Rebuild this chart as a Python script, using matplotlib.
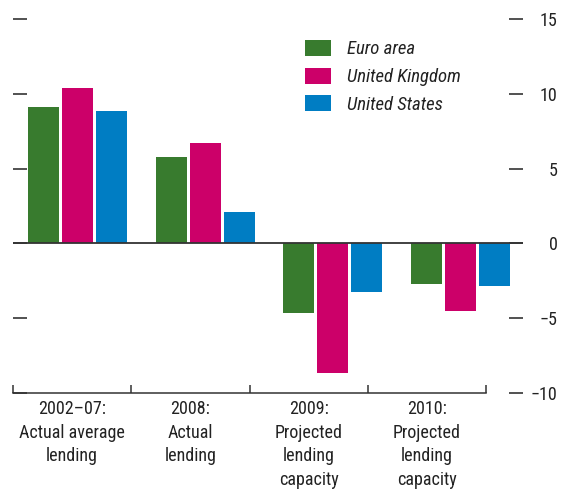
import matplotlib
matplotlib.use("Agg")
import matplotlib.pyplot as plt
from matplotlib import font_manager as fm
import numpy as np

categories = ["2002\u201307:\nActual average\nlending", "2008:\nActual\nlending",
              "2009:\nProjected\nlending\ncapacity", "2010:\nProjected\nlending\ncapacity"]
series_names = ["Euro area", "United Kingdom", "United States"]
euro_area = [9.13, 5.8, -4.67, -2.73]
united_kingdom = [10.4, 6.73, -8.67, -4.53]
united_states = [8.87, 2.13, -3.24, -2.87]
yticks = [-10, -5, 0, 5, 10, 15]
colors = ["#387B2E", "#CC0069", "#007DC3"]

avail = {f.name for f in fm.fontManager.ttflist}
fams = [f for f in ["Roboto Condensed", "Archivo Narrow", "Liberation Sans"] if f in avail] + ["DejaVu Sans"]
plt.rcParams["font.family"] = fams
FS = 13

fig = plt.figure(figsize=(5.62, 4.95), dpi=100)
L, R, T, B = 13, 523, 19, 393
W, H = 562, 495
ax = fig.add_axes([L / W, 1 - B / H, (R - L) / W, (B - T) / H])

px = 127.5  # pixels per group (bar groups)
def d(p):
    return (p - 77.5) / px

x = np.arange(len(categories))
bw = 31 / px
off = 34 / px
handles = []
for k, (vals, c, name) in enumerate(zip([euro_area, united_kingdom, united_states], colors, series_names)):
    h = ax.bar(x + (k - 1) * off, vals, width=bw, color=c, label=name, zorder=2)
    handles.append(h)

ax.set_xlim(d(L), d(R))
ax.set_ylim(-10, 15)
ax.axhline(0, color="#333333", lw=1.3, zorder=3)

for s in ["left", "right", "top"]:
    ax.spines[s].set_visible(False)
seps = [d(13), d(131.3), d(249.7), d(368), d(486)]
ax.spines["bottom"].set_bounds(seps[0], seps[-1])
ax.spines["bottom"].set_color("#333333")
ax.spines["bottom"].set_linewidth(1.1)

ax.set_xticks(seps)
ax.set_xticklabels([])
ax.tick_params(axis="x", which="major", direction="in", length=6, width=1.1, color="#333333")
mids = [(seps[i] + seps[i + 1]) / 2 for i in range(4)]
ax.set_xticks(mids, minor=True)
ax.set_xticklabels(categories, minor=True, fontsize=FS, linespacing=1.4, color="#222222")
ax.tick_params(axis="x", which="minor", length=0, pad=5)

ax.set_yticks(yticks)
ax.yaxis.set_ticks_position("both")
ax.tick_params(axis="y", direction="in", length=10, width=1.1, color="#222222",
               left=True, right=True, labelleft=False, labelright=True,
               labelsize=FS, labelcolor="#222222", pad=25)
for lab in ax.get_yticklabels():
    lab.set_horizontalalignment("right")

leg = ax.legend(handles=handles, loc="upper left", bbox_to_anchor=(305 / W, 1 - 40 / H),
                bbox_transform=fig.transFigure, frameon=False, borderpad=0, borderaxespad=0,
                handlelength=1.38, handleheight=0.92, handletextpad=0.85, labelspacing=0.5,
                prop={"family": fams, "style": "italic", "size": 13.5})
for t in leg.get_texts():
    t.set_color("#222222")

fig.savefig("out.png", dpi=100)
